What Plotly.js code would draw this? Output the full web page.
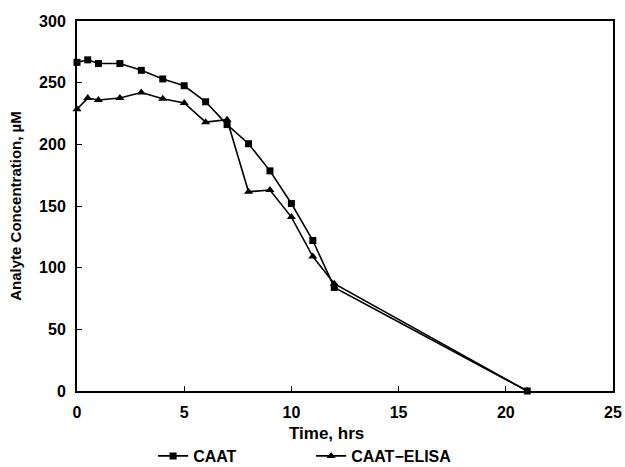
<!DOCTYPE html>
<html>
<head>
<meta charset="utf-8">
<script src="https://cdn.plot.ly/plotly-3.0.1.min.js"></script>
<style>html,body{margin:0;padding:0;background:#fff;}#chart{width:625px;height:467px;}</style>
</head>
<body>
<div id="chart"></div>
<script>
const timeHrs = [0, 0.5, 1, 2, 3, 4, 5, 6, 7, 8, 9, 10, 11, 12, 21];
const caat = [266.5, 268.5, 265.5, 265.5, 260, 253, 247.5, 234.5, 216, 200.5, 178.5, 152, 122, 84, 0];
const caatElisa = [228.5, 237.5, 236, 237.5, 242, 237, 233.5, 218, 220, 161.5, 163, 141, 109, 87, 0];
const seriesNames = ["CAAT", "CAAT\u2212ELISA"];
const xTicks = [0, 5, 10, 15, 20, 25];
const yTicks = [0, 50, 100, 150, 200, 250, 300];

const FONT = "Liberation Sans, Arial, sans-serif";

const traces = [
  {
    x: timeHrs, y: caat, name: seriesNames[0], type: "scatter", mode: "lines+markers",
    line: {color: "#000", width: 1.6},
    marker: {symbol: "square", size: 7, color: "#000"},
    cliponaxis: false
  },
  {
    x: timeHrs, y: caatElisa, name: seriesNames[1], type: "scatter", mode: "lines+markers",
    line: {color: "#000", width: 1.6},
    marker: {symbol: "triangle-up", size: 8, color: "#000"},
    cliponaxis: false
  }
];

const axisCommon = {
  showgrid: false, zeroline: false, showline: true, linecolor: "#000", linewidth: 2,
  mirror: true, ticks: "inside", ticklen: 5, tickwidth: 1, tickcolor: "#000",
  automargin: false,
  tickfont: {family: FONT, size: 16, color: "#000", weight: "bold"}
};

const layout = {
  width: 625, height: 467,
  margin: {l: 77, r: 12, t: 21, b: 76},
  paper_bgcolor: "#fff", plot_bgcolor: "#fff",
  font: {family: FONT, color: "#000"},
  xaxis: Object.assign({}, axisCommon, {
    range: [0, 25], tickvals: xTicks, ticktext: xTicks.map(String),
    ticklabelstandoff: 6
  }),
  yaxis: Object.assign({}, axisCommon, {
    range: [0, 300], tickvals: yTicks, ticktext: yTicks.map(String),
    ticklabelstandoff: 6,
    title: {text: "Analyte Concentration, \u00b5M", font: {family: FONT, size: 15, weight: "bold", color: "#000"}, standoff: 14}
  }),
  annotations: [{
    text: "Time, hrs", xref: "paper", yref: "paper", x: 0.4646, y: -0.116,
    xanchor: "center", yanchor: "middle", showarrow: false,
    font: {family: FONT, size: 17, weight: "bold", color: "#000"}
  }],
  showlegend: true,
  legend: {
    orientation: "h", xref: "container", yref: "container",
    x: 0.245, y: 0.06, xanchor: "left", yanchor: "top",
    itemwidth: 30, entrywidth: 113, entrywidthmode: "pixels",
    font: {family: FONT, size: 16, weight: "bold", color: "#000"},
    bgcolor: "rgba(0,0,0,0)"
  }
};

Plotly.newPlot("chart", traces, layout, {displayModeBar: false, staticPlot: true});
</script>
</body>
</html>
